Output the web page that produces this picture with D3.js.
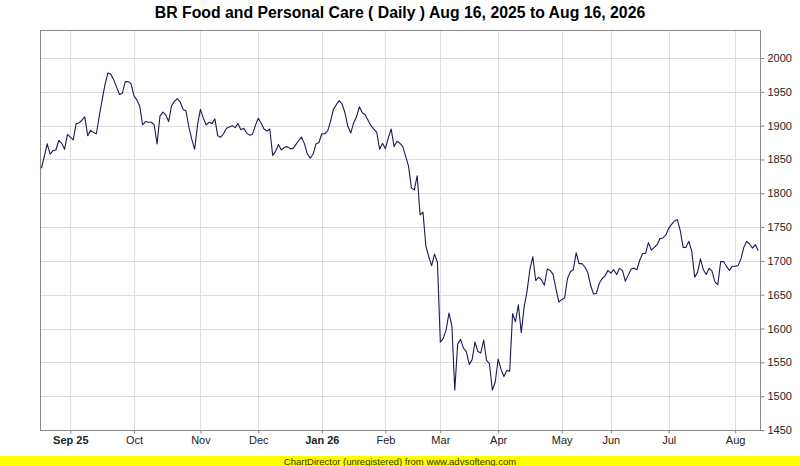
<!DOCTYPE html>
<html>
<head>
<meta charset="utf-8">
<script src="https://cdn.jsdelivr.net/npm/d3@7"></script>
<style>
  body { margin: 0; background: #fff; }
  svg { display: block; font-family: "Liberation Sans", Arial, sans-serif; }
</style>
</head>
<body>
<div id="chart"></div>
<script>
// Daily closes, one per trading day from Aug 18, 2025
const closes = [
  1837, 1855, 1873, 1858, 1863, 1864, 1878, 1874, 1865, 1887,
  1883, 1879, 1903, 1904, 1908, 1913, 1885, 1893, 1890, 1888,
  1914, 1938, 1961, 1978, 1976, 1968, 1957, 1946, 1948, 1965,
  1965, 1962, 1944, 1938, 1929, 1901, 1906, 1905, 1905, 1901,
  1873, 1914, 1920, 1916, 1906, 1929, 1936, 1940, 1935, 1924,
  1922, 1898, 1880, 1865, 1901, 1924, 1911, 1901, 1905, 1903,
  1910, 1885, 1883, 1888, 1896, 1898, 1900, 1897, 1903, 1894,
  1896, 1889, 1886, 1887, 1900, 1911, 1904, 1895, 1892, 1895,
  1856, 1862, 1872, 1864, 1868, 1869, 1866, 1866, 1872, 1878,
  1883, 1873, 1858, 1852, 1858, 1873, 1875, 1888, 1888, 1892,
  1906, 1924, 1931, 1937, 1932, 1919, 1899, 1889, 1904, 1913,
  1928, 1919, 1916, 1908, 1900, 1895, 1890, 1865, 1874, 1866,
  1882, 1895, 1869, 1877, 1874, 1869, 1855, 1840, 1808, 1805,
  1826, 1768, 1772, 1722, 1706, 1693, 1710, 1698, 1580, 1585,
  1598, 1623, 1604, 1509, 1577, 1584, 1571, 1566, 1547, 1554,
  1580, 1566, 1564, 1583, 1553, 1548, 1509, 1521, 1555, 1540,
  1529, 1538, 1537, 1622, 1610, 1635, 1594, 1632, 1655, 1688,
  1706, 1671, 1676, 1672, 1664, 1688, 1686, 1680, 1659, 1639,
  1643, 1645, 1674, 1684, 1687, 1712, 1696, 1696, 1691, 1683,
  1664, 1651, 1652, 1667, 1674, 1678, 1686, 1682, 1687, 1680,
  1689, 1686, 1670, 1679, 1688, 1689, 1687, 1701, 1711, 1711,
  1727, 1716, 1720, 1724, 1733, 1734, 1738, 1748, 1754, 1759,
  1761, 1745, 1720, 1720, 1729, 1714, 1676, 1683, 1703, 1687,
  1680, 1689, 1685, 1669, 1665, 1699, 1699, 1692, 1686, 1692,
  1692, 1693, 1703, 1720, 1729, 1725, 1719, 1724, 1715
];

// Month labels and the trading-day index where each month starts
const monthLabels = ["Sep 25", "Oct", "Nov", "Dec", "Jan 26", "Feb", "Mar", "Apr", "May", "Jun", "Jul", "Aug"];
const monthStarts = [10, 32, 55, 75, 97, 119, 138, 158, 180, 197, 217, 240];
const boldLabels = ["Sep 25", "Jan 26"];

const yTicks = [1450, 1500, 1550, 1600, 1650, 1700, 1750, 1800, 1850, 1900, 1950, 2000];

const W = 800, H = 466;
const plot = { left: 40, right: 760, top: 30, bottom: 430 };

const svg = d3.select("#chart").append("svg")
    .attr("width", W)
    .attr("height", H);

// Scales
const x = d3.scaleLinear()
    .domain([-0.5, closes.length - 0.4])
    .range([plot.left, plot.right]);

const y = d3.scaleLinear()
    .domain([1450, 2041.4])
    .range([plot.bottom, plot.top]);

// Title
svg.append("text")
    .attr("x", W / 2)
    .attr("y", 17.5)
    .attr("text-anchor", "middle")
    .attr("font-size", 15.8)
    .attr("font-weight", "bold")
    .attr("fill", "#000")
    .text("BR Food and Personal Care ( Daily ) Aug 16, 2025 to Aug 16, 2026");

// Grid lines
svg.append("g")
    .selectAll("line")
    .data(yTicks)
    .enter().append("line")
    .attr("x1", plot.left).attr("x2", plot.right)
    .attr("y1", d => Math.round(y(d)) + 0.5)
    .attr("y2", d => Math.round(y(d)) + 0.5)
    .attr("stroke", "#dddddd");

svg.append("g")
    .selectAll("line")
    .data(monthStarts)
    .enter().append("line")
    .attr("x1", d => Math.round(x(d)) + 0.5)
    .attr("x2", d => Math.round(x(d)) + 0.5)
    .attr("y1", plot.top).attr("y2", plot.bottom)
    .attr("stroke", "#dddddd");

// Right y axis
const yAxis = svg.append("g")
    .attr("transform", `translate(${plot.right + 0.5},0)`)
    .call(d3.axisRight(y).tickValues(yTicks).tickSize(4).tickPadding(3).tickFormat(d3.format("d")));
yAxis.select(".domain").remove();
yAxis.selectAll(".tick line").attr("stroke", "#888");
yAxis.selectAll(".tick text")
    .attr("font-size", 11)
    .attr("font-family", "Liberation Sans, Arial, sans-serif")
    .attr("fill", "#222");

// Bottom x axis
const xAxis = svg.append("g")
    .attr("transform", `translate(0,${plot.bottom + 0.5})`)
    .call(d3.axisBottom(x)
        .tickValues(monthStarts)
        .tickSize(3)
        .tickPadding(3)
        .tickFormat((d, i) => monthLabels[i]));
xAxis.select(".domain").remove();
xAxis.selectAll(".tick line").attr("stroke", "#888");
xAxis.selectAll(".tick text")
    .attr("font-size", 11)
    .attr("font-family", "Liberation Sans, Arial, sans-serif")
    .attr("fill", "#222")
    .attr("font-weight", (d, i) => boldLabels.includes(monthLabels[i]) ? "bold" : "normal");

// Plot frame
svg.append("rect")
    .attr("x", plot.left + 0.5)
    .attr("y", plot.top + 0.5)
    .attr("width", plot.right - plot.left)
    .attr("height", plot.bottom - plot.top)
    .attr("fill", "none")
    .attr("stroke", "#888");

// Price line
const line = d3.line()
    .x((d, i) => x(i))
    .y(d => y(d));

svg.append("path")
    .datum(closes)
    .attr("fill", "none")
    .attr("stroke", "#1a1a55")
    .attr("stroke-width", 1.1)
    .attr("stroke-linejoin", "round")
    .attr("d", line);

// Footer banner
svg.append("rect")
    .attr("x", 0)
    .attr("y", 456)
    .attr("width", W)
    .attr("height", 10)
    .attr("fill", "#ffff00");

svg.append("text")
    .attr("x", W / 2)
    .attr("y", 464.5)
    .attr("text-anchor", "middle")
    .attr("font-size", 9.5)
    .attr("fill", "#333300")
    .text("ChartDirector (unregistered) from www.advsofteng.com");
</script>
</body>
</html>
